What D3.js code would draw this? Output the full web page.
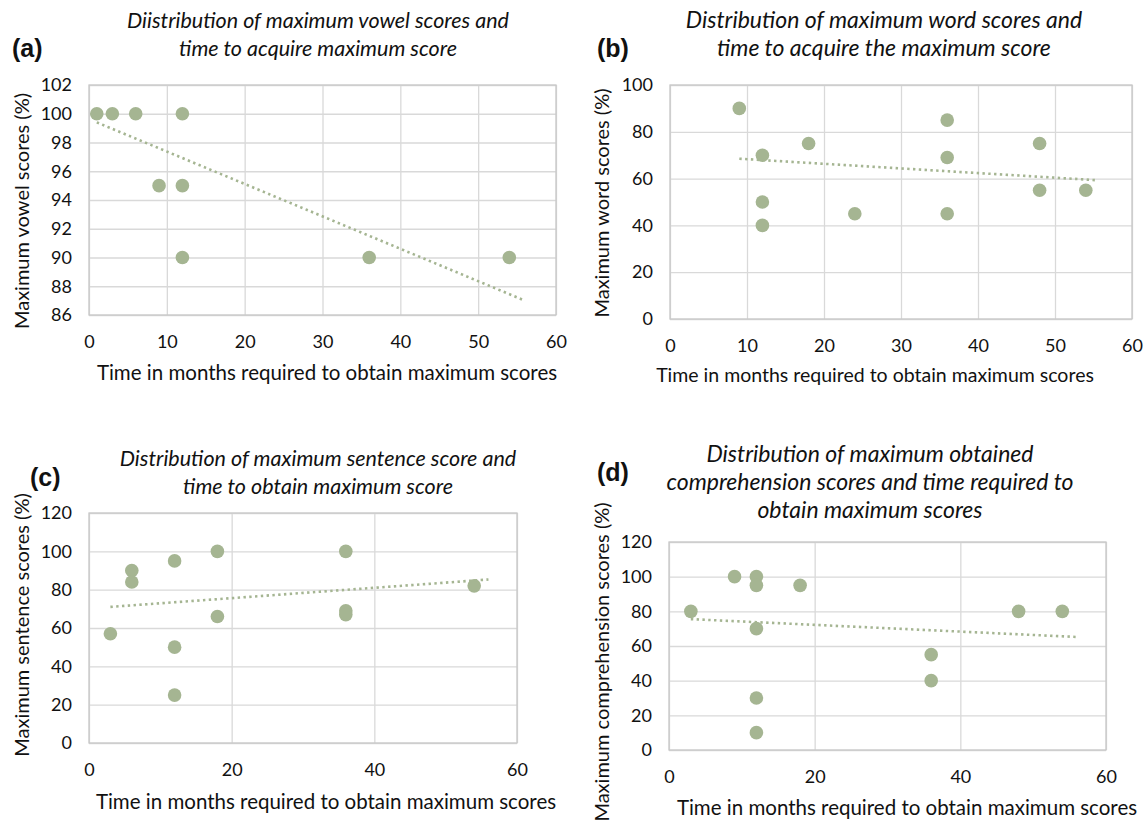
<!DOCTYPE html>
<html>
<head>
<meta charset="utf-8">
<script src="https://cdn.jsdelivr.net/npm/d3@7"></script>
<style>
  body { margin: 0; background: #fff; }
  svg { display: block; }
</style>
</head>
<body>
<svg id="chart" width="1146" height="823"></svg>
<script>
// data
const vowelMonths = [1, 3, 6, 12, 9, 12, 12, 36, 54];
const vowelScores = [100, 100, 100, 100, 95, 95, 90, 90, 90];
const vowelTrend = [[1, 99.4], [56, 87.0]];

const wordMonths = [9, 12, 12, 12, 18, 24, 36, 36, 36, 48, 48, 54];
const wordScores = [90, 70, 50, 40, 75, 45, 85, 69, 45, 75, 55, 55];
const wordTrend = [[9, 68.5], [55.5, 59.3]];

const sentenceMonths = [3, 6, 6, 12, 12, 12, 18, 18, 36, 36, 36, 54];
const sentenceScores = [57, 90, 84, 95, 50, 25, 100, 66, 100, 69, 67, 82];
const sentenceTrend = [[3, 71], [56, 85.3]];

const compMonths = [3, 9, 12, 12, 12, 12, 12, 18, 36, 36, 48, 54];
const compScores = [80, 100, 100, 95, 70, 30, 10, 95, 55, 40, 80, 80];
const compTrend = [[3, 75.5], [56, 65.2]];

// tick labels
const monthTicks10 = [0, 10, 20, 30, 40, 50, 60];
const monthTicks20 = [0, 20, 40, 60];
const vowelTicks = [86, 88, 90, 92, 94, 96, 98, 100, 102];
const wordTicks = [0, 20, 40, 60, 80, 100];
const pctTicks120 = [0, 20, 40, 60, 80, 100, 120];

const xTitle = 'Time in months required to obtain maximum scores';

const panels = [
  {
    tag: '(a)', tagX: 12, tagY: 57,
    title: ['Diistribution of maximum vowel scores and', 'time to acquire maximum score'],
    titleX: 318, titleY: 28, titleSize: 21.5,
    yTitle: 'Maximum vowel scores (%)', yTitleX: 29, yTitleY: 211,
    xTitleX: 327, xTitleY: 380, xTitleSize: 20.5,
    box: { left: 89, right: 556, top: 85, bottom: 315 },
    xTicks: monthTicks10, yTicks: vowelTicks,
    months: vowelMonths, scores: vowelScores, trend: vowelTrend
  },
  {
    tag: '(b)', tagX: 597, tagY: 57,
    title: ['Distribution of maximum word scores and', 'time to acquire the maximum score'],
    titleX: 884, titleY: 28, titleSize: 23,
    yTitle: 'Maximum word scores (%)', yTitleX: 609, yTitleY: 203,
    xTitleX: 875, xTitleY: 382, xTitleSize: 19.5,
    box: { left: 670, right: 1132, top: 85, bottom: 319 },
    xTicks: monthTicks10, yTicks: wordTicks,
    months: wordMonths, scores: wordScores, trend: wordTrend
  },
  {
    tag: '(c)', tagX: 30, tagY: 486,
    title: ['Distribution of maximum sentence score and', 'time to obtain maximum score'],
    titleX: 318, titleY: 466, titleSize: 21.5,
    yTitle: 'Maximum sentence scores (%)', yTitleX: 29, yTitleY: 625,
    xTitleX: 326, xTitleY: 809, xTitleSize: 20.5,
    box: { left: 89, right: 517, top: 513, bottom: 743 },
    xTicks: monthTicks20, yTicks: pctTicks120,
    months: sentenceMonths, scores: sentenceScores, trend: sentenceTrend
  },
  {
    tag: '(d)', tagX: 597, tagY: 481,
    title: ['Distribution of maximum obtained', 'comprehension scores and time required to', 'obtain maximum scores'],
    titleX: 870, titleY: 462, titleSize: 23,
    yTitle: 'Maximum comprehension scores (%)', yTitleX: 609, yTitleY: 662,
    xTitleX: 907, xTitleY: 815, xTitleSize: 20.5,
    box: { left: 669, right: 1106, top: 542, bottom: 750 },
    xTicks: monthTicks20, yTicks: pctTicks120,
    months: compMonths, scores: compScores, trend: compTrend
  }
];

const pointColor = '#a5b592';
const gridColor = '#d9d9d9';
const textFont = 'Lato, "Open Sans", sans-serif';

const svg = d3.select('#chart');

panels.forEach(p => {
  const g = svg.append('g');
  const b = p.box;

  const x = d3.scaleLinear()
    .domain(d3.extent(p.xTicks))
    .range([b.left, b.right]);

  const y = d3.scaleLinear()
    .domain(d3.extent(p.yTicks))
    .range([b.bottom, b.top]);

  // gridlines + frame
  const yAxis = d3.axisLeft(y).tickValues(p.yTicks)
    .tickSize(-(b.right - b.left)).tickPadding(17);
  const xAxis = d3.axisBottom(x).tickValues(p.xTicks)
    .tickSize(-(b.bottom - b.top)).tickPadding(20);

  g.append('g')
    .attr('transform', `translate(${b.left},0)`)
    .call(yAxis)
    .call(s => s.select('.domain').remove())
    .call(s => s.selectAll('line').attr('stroke', gridColor).attr('stroke-width', 1.3))
    .call(s => s.selectAll('text')
      .attr('font-family', textFont).attr('font-size', 18).attr('fill', '#111'));

  g.append('g')
    .attr('transform', `translate(0,${b.bottom})`)
    .call(xAxis)
    .call(s => s.select('.domain').remove())
    .call(s => s.selectAll('line').attr('stroke', gridColor).attr('stroke-width', 1.3))
    .call(s => s.selectAll('text')
      .attr('font-family', textFont).attr('font-size', 18).attr('fill', '#111'));

  g.append('rect')
    .attr('x', b.left)
    .attr('y', b.top)
    .attr('width', b.right - b.left)
    .attr('height', b.bottom - b.top)
    .attr('fill', 'none')
    .attr('stroke', '#c8c8c8')
    .attr('stroke-width', 1.3);

  // points
  g.append('g')
    .selectAll('circle')
    .data(p.months.map((m, i) => [m, p.scores[i]]))
    .join('circle')
    .attr('cx', d => x(d[0]))
    .attr('cy', d => y(d[1]))
    .attr('r', 6.8)
    .attr('fill', pointColor);

  // dotted linear trendline
  g.append('path')
    .datum(p.trend)
    .attr('fill', 'none')
    .attr('stroke', pointColor)
    .attr('stroke-width', 2.6)
    .attr('stroke-dasharray', '2.4,3.4')
    .attr('d', d3.line().x(d => x(d[0])).y(d => y(d[1])));

  // texts
  g.append('text')
    .attr('x', p.tagX)
    .attr('y', p.tagY)
    .attr('font-family', '"Liberation Sans", Arial, sans-serif')
    .attr('font-weight', 'bold')
    .attr('font-size', 25)
    .attr('fill', '#111')
    .text(p.tag);

  g.append('text')
    .attr('font-family', textFont)
    .attr('font-style', 'italic')
    .attr('font-size', p.titleSize)
    .attr('fill', '#111')
    .attr('text-anchor', 'middle')
    .selectAll('tspan')
    .data(p.title)
    .join('tspan')
    .attr('x', p.titleX)
    .attr('y', (d, i) => p.titleY + i * 28)
    .text(d => d);

  g.append('text')
    .attr('transform', `translate(${p.yTitleX},${p.yTitleY}) rotate(-90)`)
    .attr('text-anchor', 'middle')
    .attr('font-family', textFont)
    .attr('font-size', 20)
    .attr('fill', '#111')
    .text(p.yTitle);

  g.append('text')
    .attr('x', p.xTitleX)
    .attr('y', p.xTitleY)
    .attr('text-anchor', 'middle')
    .attr('font-family', textFont)
    .attr('font-size', p.xTitleSize)
    .attr('fill', '#111')
    .text(xTitle);
});
</script>
</body>
</html>
